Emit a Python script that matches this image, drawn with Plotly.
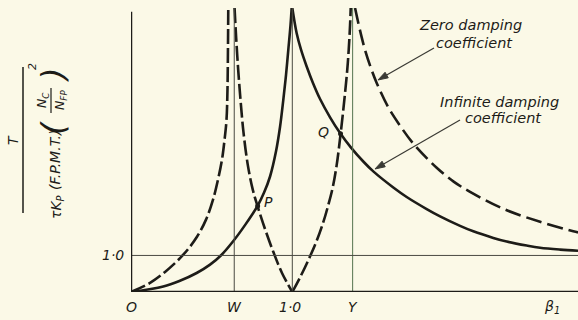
import math
import plotly.graph_objects as go

# Frequency ratio beta_1 and non-dimensional torque for each branch of the curves
W = 0.64          # first resonance, zero damping
Y = 1.374         # second resonance, zero damping

# Zero damping coefficient (dashed) - four branches separated by the poles at W and Y
zero_a_beta = [0, 0.118, 0.211, 0.324, 0.409, 0.465, 0.508, 0.539, 0.564, 0.580, 0.592, 0.598, 0.601, 0.603]
zero_a_val = [0, 0.25, 0.55, 1.02, 1.51, 1.98, 2.52, 3.07, 3.62, 4.17, 4.71, 5.53, 6.63, 7.77]

zero_b_beta = [0.642, 0.652, 0.665, 0.680, 0.697, 0.725, 0.756, 0.785, 0.831, 0.882, 0.936, 1.0]
zero_b_val = [7.77, 6.95, 6.05, 5.20, 4.38, 3.45, 2.78, 2.34, 1.72, 1.10, 0.52, 0]

zero_c_beta = [1.0, 1.048, 1.097, 1.151, 1.190, 1.223, 1.250, 1.275, 1.296, 1.314, 1.327, 1.340, 1.350, 1.358, 1.362]
zero_c_val = [0, 0.40, 0.85, 1.40, 1.88, 2.38, 2.85, 3.47, 4.20, 4.90, 5.45, 6.05, 6.65, 7.30, 7.77]

zero_d_beta = [1.389, 1.420, 1.451, 1.488, 1.523, 1.593, 1.668, 1.750, 1.895, 2.000, 2.102, 2.306, 2.536, 2.742, 2.771]
zero_d_val = [7.77, 7.15, 6.62, 6.12, 5.72, 5.07, 4.55, 4.06, 3.40, 3.02, 2.74, 2.28, 1.92, 1.66, 1.63]

# Infinite damping coefficient (solid) - single resonance at beta_1 = 1
inf_a_beta = [0, 0.20, 0.30, 0.407, 0.490, 0.562, 0.632, 0.710, 0.785, 0.825, 0.862, 0.899, 0.924, 0.944, 0.961, 0.975, 0.989, 0.996]
inf_a_val = [0, 0.15, 0.30, 0.52, 0.75, 1.02, 1.38, 1.85, 2.36, 2.72, 3.16, 3.85, 4.52, 5.25, 5.94, 6.62, 7.31, 7.77]

inf_b_beta = [1.0, 1.027, 1.054, 1.089, 1.128, 1.172, 1.234, 1.296, 1.364, 1.440, 1.502, 1.626, 1.709, 1.833,
              1.916, 2.040, 2.122, 2.246, 2.329, 2.453, 2.536, 2.660, 2.771]
inf_b_val = [7.77, 7.08, 6.63, 6.17, 5.72, 5.28, 4.78, 4.35, 3.95, 3.57, 3.30, 2.86, 2.60, 2.27,
             2.07, 1.81, 1.66, 1.48, 1.38, 1.27, 1.21, 1.16, 1.13]

# Fixed points where both curves cross
fixed_names = ["P", "Q"]
fixed_beta = [0.785, 1.299]
fixed_val = [2.35, 4.33]

# Axis labels
x_tick_text = ["O", "W", "1·0", "Y", "β<sub>1</sub>"]
x_tick_pos = [0.006, W, 0.986, Y, 2.61]
y_ref_value = 1.0

X_MAX = 2.771
Y_MAX = 7.77

INK = "#1d1c18"
THIN = "#4a4a42"
BG = "#fbf9e7"
FONT = "DejaVu Sans"

fig = go.Figure()

dash_left = "15px,4px"
dash_right = "16px,6px"

for bx, by, dash in [(zero_a_beta, zero_a_val, dash_left),
                     (zero_b_beta, zero_b_val, dash_left),
                     (zero_c_beta, zero_c_val, dash_left),
                     (zero_d_beta, zero_d_val, dash_right)]:
    fig.add_trace(go.Scatter(x=bx, y=by, mode="lines",
                             line=dict(color=INK, width=2.6, dash=dash, shape="spline", smoothing=1.0),
                             hoverinfo="skip", showlegend=False))

for bx, by in [(inf_a_beta, inf_a_val), (inf_b_beta, inf_b_val)]:
    fig.add_trace(go.Scatter(x=bx, y=by, mode="lines",
                             line=dict(color=INK, width=2.6, shape="spline", smoothing=1.0),
                             hoverinfo="skip", showlegend=False))

fig.add_trace(go.Scatter(x=fixed_beta, y=fixed_val, mode="markers",
                         marker=dict(color=INK, size=5), hoverinfo="skip", showlegend=False))

shapes = []
# thin reference lines at W, 1.0 and Y, and at unit torque
for xv, col in [(W, THIN), (1.0, THIN), (Y, "#55744f")]:
    shapes.append(dict(type="line", xref="x", yref="y", x0=xv, x1=xv, y0=0, y1=Y_MAX,
                       line=dict(color=col, width=1)))
shapes.append(dict(type="line", xref="x", yref="y", x0=0, x1=X_MAX, y0=y_ref_value, y1=y_ref_value,
                   line=dict(color=THIN, width=1)))
# main axes
shapes.append(dict(type="line", xref="x", yref="y", x0=0, x1=0, y0=0, y1=7.67,
                   line=dict(color=INK, width=2.5)))
shapes.append(dict(type="line", xref="x", yref="y", x0=-0.015, x1=X_MAX, y0=0, y1=0,
                   line=dict(color=INK, width=2.5)))

# pixel helpers for items placed by page position
L, T, PW, PH = 131, 8, 447, 284


def px(xp):
    return (xp - L) / PW


def py(yp):
    return (T + PH - yp) / PH


shapes.append(dict(type="line", xref="paper", yref="paper", x0=px(23), x1=px(23), y0=py(67), y1=py(213),
                   line=dict(color=INK, width=1.5)))
shapes.append(dict(type="line", xref="paper", yref="paper", x0=px(51), x1=px(51), y0=py(88), y1=py(113),
                   line=dict(color=INK, width=1.2)))

# leader arrows from the captions to their curves
ARROW = "#3a3a34"
for (hx, hy), (tx, ty) in [((378, 80), (434, 48)), ((375, 169), (460, 120))]:
    d = math.hypot(tx - hx, ty - hy)
    ux, uy = (tx - hx) / d, (ty - hy) / d
    hl, hw = 10, 3.2
    bx, by = hx + ux * hl, hy + uy * hl
    shapes.append(dict(type="line", xref="paper", yref="paper", x0=px(bx), y0=py(by), x1=px(tx), y1=py(ty),
                       line=dict(color=ARROW, width=1.2)))
    p1 = (bx - uy * hw, by + ux * hw)
    p2 = (bx + uy * hw, by - ux * hw)
    path = "M {:.5f} {:.5f} L {:.5f} {:.5f} L {:.5f} {:.5f} Z".format(
        px(hx), py(hy), px(p1[0]), py(p1[1]), px(p2[0]), py(p2[1]))
    shapes.append(dict(type="path", xref="paper", yref="paper", path=path,
                       fillcolor=ARROW, line=dict(color=ARROW, width=1)))

ann = []
ifont = dict(family=FONT, size=14, color=INK, style="italic")

for txt, xv in zip(x_tick_text, x_tick_pos):
    ann.append(dict(x=xv / X_MAX, y=py(307), xref="paper", yref="paper", text=txt, showarrow=False,
                    font=ifont, xanchor="center", yanchor="middle"))
ann.append(dict(x=px(113), y=y_ref_value / Y_MAX, xref="paper", yref="paper", text="1·0", showarrow=False,
                font=ifont, xanchor="center", yanchor="middle"))

for name, bx, by, dx, dy in [("P", fixed_beta[0], fixed_val[0], 0.065, 0.1),
                             ("Q", fixed_beta[1], fixed_val[1], -0.108, 0.06)]:
    ann.append(dict(x=bx + dx, y=by + dy, xref="x", yref="y", text=name, showarrow=False,
                    font=ifont, xanchor="center", yanchor="middle"))

# curve captions
for txt, cx, cy in [("Zero damping", 470, 25), ("coefficient", 474, 43),
                    ("Infinite damping", 499, 102), ("coefficient", 503, 118)]:
    ann.append(dict(x=px(cx), y=py(cy), xref="paper", yref="paper", text=txt, showarrow=False,
                    font=dict(family=FONT, size=14.5, color=INK, style="italic"),
                    xanchor="center", yanchor="middle"))

# y-axis title: T over tau K_P (F.P.M.T.) (N_C / N_FP)^2, written upwards
rot = [("T", 13, 140, 14), ("τK<sub>P</sub>", 57, 207, 14), ("(F.P.M.T.)", 55, 160, 14),
       ("(", 53, 128, 32), (")", 53, 75, 32),
       ("N<sub>C</sub>", 42, 100, 12.5), ("N<sub>FP</sub>", 60, 100, 12.5), ("2", 33, 67, 11)]
for txt, cx, cy, size in rot:
    ann.append(dict(x=px(cx), y=py(cy), xref="paper", yref="paper", text=txt, showarrow=False,
                    textangle=-90, font=dict(family=FONT, size=size, color=INK, style="italic"),
                    xanchor="center", yanchor="middle"))

axis_common = dict(showgrid=False, zeroline=False, showticklabels=False, showline=False, ticks="")
fig.update_layout(
    width=578, height=320,
    margin=dict(l=L, r=0, t=T, b=320 - T - PH),
    paper_bgcolor=BG, plot_bgcolor=BG,
    xaxis=dict(range=[0, X_MAX], **axis_common),
    yaxis=dict(range=[0, Y_MAX], **axis_common),
    shapes=shapes, annotations=ann,
)

fig.write_html("out.html")
